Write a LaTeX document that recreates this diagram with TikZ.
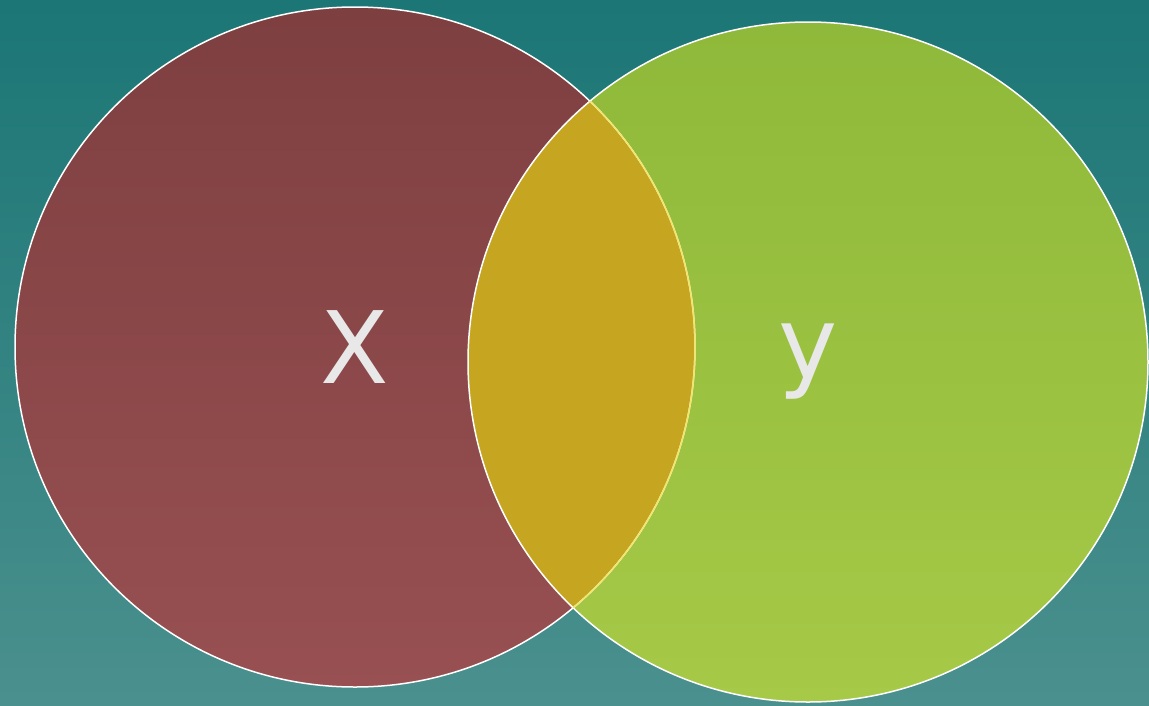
\documentclass[tikz,border=0pt]{standalone}
\usepackage{fontspec}
\setmainfont{DejaVu Sans}
\definecolor{bgtop}{HTML}{1B7675}
\definecolor{bgbot}{HTML}{4A908E}
\definecolor{ltop}{HTML}{7E3F40}
\definecolor{lbot}{HTML}{985052}
\definecolor{rtop}{HTML}{8FB93A}
\definecolor{rbot}{HTML}{A6C947}
\definecolor{inter}{HTML}{C6A520}
\definecolor{interline}{HTML}{F2E56A}
\definecolor{labelc}{HTML}{E8E8E8}
\tikzset{
  setlabel/.style={text=labelc, font=\fontsize{100}{100}\selectfont, inner sep=0pt},
  outline/.style={draw=white, line width=1.5pt},
}
\begin{document}
\begin{tikzpicture}[x=1pt,y=-1pt]
\useasboundingbox (0,0) rectangle (1149,705);
\shade[top color=bgtop, bottom color=bgbot] (0,0) rectangle (1149,705);
\coordinate (lc) at (355,347);
\coordinate (rc) at (808,362);
\shade[top color=ltop, bottom color=lbot] (lc) circle (340);
\shade[top color=rtop, bottom color=rbot] (rc) circle (340);
\begin{scope}
  \clip (lc) circle (340);
  \fill[inter] (rc) circle (340);
\end{scope}
\draw[outline] (lc) circle (340);
\draw[outline] (rc) circle (340);
\begin{scope}
  \clip (rc) circle (340);
  \draw[draw=interline, line width=1.5pt] (lc) circle (340);
\end{scope}
\node[setlabel] (x) at (lc) {X};
\node[setlabel] (y) at (rc) {y};
\end{tikzpicture}
\end{document}
